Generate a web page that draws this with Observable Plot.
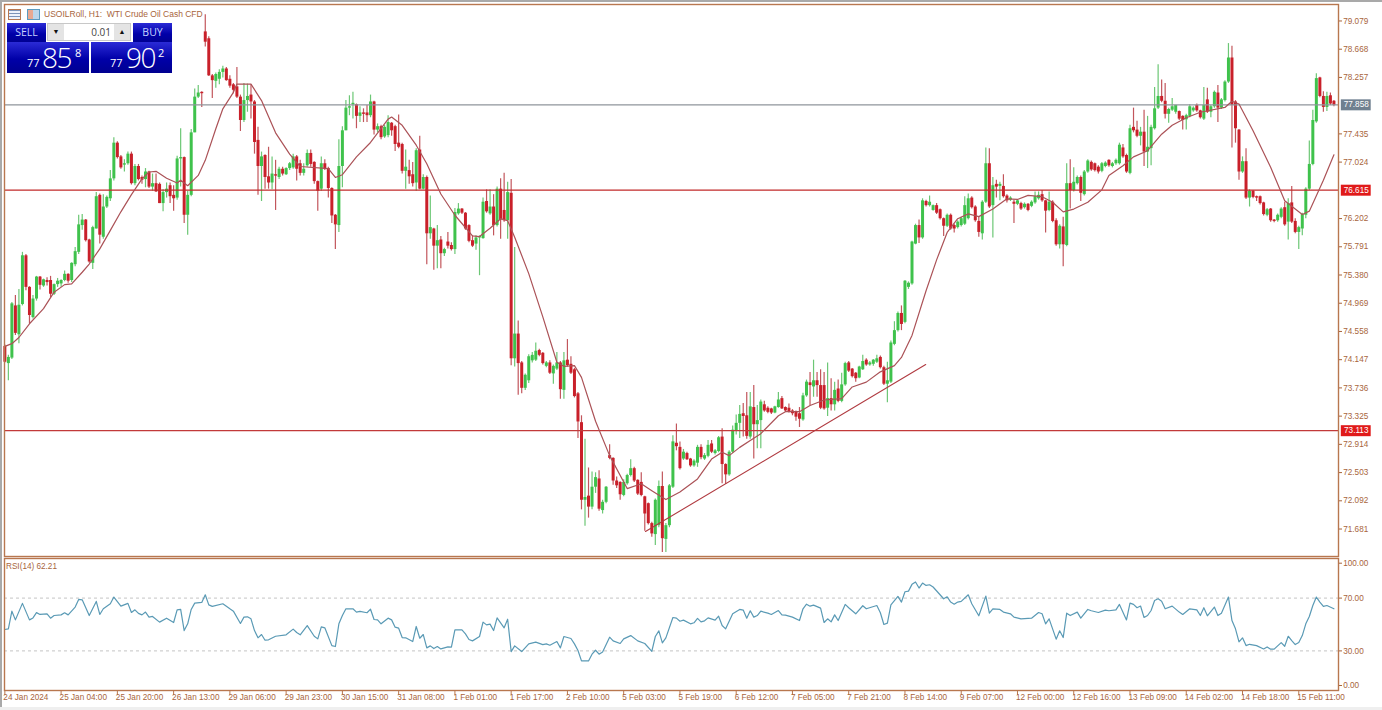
<!doctype html>
<html><head><meta charset="utf-8">
<script src="https://cdn.jsdelivr.net/npm/d3@7"></script>
<script src="https://cdn.jsdelivr.net/npm/@observablehq/plot@0.6"></script>
<style>
html,body{margin:0;padding:0;background:#fff;width:1382px;height:710px;overflow:hidden}
#stage{position:relative;width:1382px;height:710px;font-family:"Liberation Sans",Arial,sans-serif}
#stage svg{position:absolute;left:0;background:transparent}
.edge{position:absolute;background:#a9a9a9}
.ui{position:absolute;color:#fff;white-space:nowrap}
.blue{position:absolute;background:linear-gradient(#2b2bd6,#0000a8 55%,#000090)}
</style></head><body><div id="stage"></div>
<script>
const open=[
74.34,74.09,74.17,74.93,74.51,74.95,75.66,75.2,74.76,75.03,
75.35,75.22,75.3,75.3,75.1,75.24,75.25,75.3,75.39,75.3,
75.53,75.71,76.1,76.18,75.89,75.55,76.05,76.54,75.93,76.37,
76.49,76.78,77.3,77.1,76.98,77.0,77.14,76.71,76.96,76.8,
76.77,76.88,76.66,76.71,76.7,76.42,76.58,76.68,76.54,76.5,
77.07,77.09,76.25,76.54,77.45,77.97,78.04,78.92,78.82,78.28,
78.2,78.23,78.33,78.38,78.23,78.15,78.12,77.97,77.63,77.92,
78.0,77.9,77.34,76.96,77.12,76.81,76.72,76.84,76.8,76.92,
76.84,76.93,76.94,77.1,77.0,76.86,76.97,77.15,77.02,76.74,
76.63,77.0,76.93,76.64,76.25,76.1,76.96,77.48,77.81,77.86,
77.86,77.69,77.74,77.74,77.7,77.9,77.49,77.54,77.39,77.41,
77.59,77.54,77.3,77.28,76.89,76.9,76.84,76.72,77.2,76.63,
76.8,75.98,76.05,75.8,75.89,75.69,75.86,75.81,75.75,76.27,
76.34,76.28,76.1,75.88,75.83,75.92,75.91,76.45,76.27,76.37,
76.1,76.63,76.32,76.17,76.57,74.16,74.52,74.1,73.73,73.84,
74.13,74.14,74.28,74.24,74.05,74.1,73.94,74.01,74.1,73.7,
74.14,74.08,74.0,73.65,73.23,72.1,72.16,72.0,72.29,72.41,
71.95,72.07,72.75,72.71,72.38,72.36,72.17,72.34,72.46,72.56,
72.39,72.36,72.15,72.05,71.76,71.6,71.73,72.3,71.53,71.73,
72.29,72.93,72.87,72.7,72.78,72.7,72.6,72.64,72.87,72.7,
72.74,72.92,72.78,72.81,73.02,72.62,72.47,72.8,73.11,73.22,
73.36,73.33,73.02,73.45,73.2,73.26,73.49,73.44,73.43,73.37,
73.45,73.58,73.45,73.44,73.4,73.38,73.36,73.27,73.62,73.81,
73.75,73.84,73.77,73.77,73.44,73.58,73.49,73.72,73.54,73.78,
74.1,74.01,73.95,73.88,74.0,74.14,74.07,74.08,74.11,74.18,
74.03,73.79,73.82,74.37,74.57,74.82,74.69,75.2,75.25,75.83,
76.1,75.92,76.45,76.39,76.32,76.39,76.33,76.2,76.09,76.25,
76.1,76.07,76.1,76.12,76.2,76.5,76.37,76.16,75.98,76.44,
77.0,76.39,76.7,76.67,76.67,76.53,76.47,76.44,76.41,76.42,
76.36,76.41,76.38,76.43,76.49,76.55,76.46,76.32,76.44,76.17,
75.82,76.08,75.81,76.71,76.61,76.71,76.8,76.55,76.88,77.02,
77.0,76.95,76.89,76.96,77.05,76.96,77.0,77.0,77.23,77.12,
76.86,77.53,77.49,77.4,77.46,77.17,77.22,77.51,77.81,77.98,
77.91,77.72,77.78,77.75,77.76,77.69,77.64,77.69,77.77,77.85,
77.77,77.65,77.93,77.75,77.83,78.03,77.81,77.92,78.19,78.54,
77.9,77.49,76.88,77.03,76.5,76.6,76.52,76.52,76.43,76.25,
76.34,76.18,76.17,76.22,76.36,76.15,76.43,76.16,76.0,76.05,
76.25,76.63,76.99,77.61,78.25,77.98,77.82,77.99,77.91];
const close=[
74.11,74.18,74.96,74.53,74.94,75.66,75.2,74.79,75.03,75.35,
75.23,75.31,75.27,75.1,75.24,75.29,75.3,75.39,75.29,75.55,
75.72,76.11,76.18,75.88,75.57,76.07,76.52,75.96,76.37,76.51,
76.78,77.3,77.09,76.94,77.0,77.14,76.71,76.96,76.77,76.76,
76.88,76.66,76.71,76.59,76.42,76.58,76.63,76.52,76.49,77.07,
77.09,76.25,76.54,77.45,77.97,78.03,78.02,78.77,78.28,78.21,
78.3,78.33,78.38,78.21,78.13,78.07,77.97,77.63,77.92,77.98,
77.9,77.31,76.96,77.1,76.8,76.72,76.85,76.82,76.92,76.85,
76.93,77.0,77.1,76.92,76.86,76.92,77.15,76.99,76.74,76.6,
77.0,76.92,76.64,76.24,76.11,76.96,77.48,77.81,77.83,77.88,
77.69,77.74,77.72,77.7,77.9,77.49,77.54,77.38,77.53,77.6,
77.48,77.28,77.24,76.89,76.95,76.81,76.71,77.19,76.63,76.8,
75.98,76.07,75.8,75.88,75.69,75.75,75.8,75.75,76.29,76.34,
76.28,76.05,75.87,75.8,75.92,75.94,76.44,76.3,76.37,76.1,
76.63,76.18,76.17,76.58,74.16,74.52,74.09,73.73,73.92,74.19,
74.21,74.27,74.21,74.09,74.1,73.95,74.05,74.1,73.71,74.13,
74.06,73.95,73.61,73.24,72.1,72.14,72.0,72.29,72.43,71.97,
72.07,72.29,72.71,72.38,72.31,72.18,72.36,72.46,72.56,72.38,
72.19,72.17,71.9,71.76,71.61,72.1,72.3,71.54,71.73,72.31,
72.95,72.88,72.56,72.8,72.69,72.6,72.67,72.87,72.72,72.75,
72.9,72.8,72.82,73.01,72.62,72.47,72.8,73.12,73.22,73.35,
73.32,73.03,73.46,73.2,73.26,73.53,73.4,73.38,73.37,73.46,
73.56,73.43,73.4,73.38,73.36,73.31,73.28,73.62,73.82,73.77,
73.84,73.77,73.44,73.43,73.58,73.49,73.7,73.54,73.78,74.09,
73.98,73.9,73.87,74.04,74.12,74.07,74.1,74.14,74.16,74.03,
73.79,73.84,74.39,74.57,74.82,74.66,75.29,75.26,75.86,76.1,
75.92,76.46,76.39,76.44,76.39,76.28,76.2,76.09,76.25,76.05,
76.05,76.15,76.2,76.39,76.49,76.36,76.17,76.0,76.44,77.0,
76.37,76.68,76.66,76.7,76.52,76.46,76.5,76.41,76.46,76.34,
76.41,76.32,76.44,76.52,76.54,76.46,76.31,76.44,76.16,75.82,
76.09,75.82,76.71,76.61,76.73,76.8,76.57,76.88,77.04,76.91,
76.9,76.88,77.0,77.01,76.97,77.0,77.05,77.27,77.1,76.88,
77.51,77.48,77.4,77.46,77.17,77.24,77.53,77.8,77.98,77.91,
77.72,77.79,77.83,77.85,77.65,77.63,77.7,77.83,77.81,77.77,
77.67,77.85,77.75,77.83,78.04,77.81,77.93,78.19,78.54,77.85,
77.51,76.88,77.03,76.5,76.6,76.51,76.5,76.42,76.26,76.33,
76.17,76.16,76.25,76.34,76.11,76.42,76.15,76.0,76.07,76.26,
76.63,76.99,77.63,78.24,77.98,77.82,77.98,77.87,77.85];
const high=[
74.36,74.21,74.98,75.08,75.17,75.71,75.68,75.21,75.08,75.36,
75.36,75.32,75.34,75.36,75.25,75.33,75.31,75.44,75.4,75.56,
75.78,76.25,76.26,76.19,75.9,76.09,76.58,76.56,76.55,76.53,
76.9,77.38,77.32,77.12,77.06,77.17,77.17,76.99,76.99,76.82,
76.93,76.89,76.85,76.85,76.72,76.62,76.72,76.72,76.68,77.11,
77.51,77.1,76.6,77.5,78.09,78.14,78.05,79.17,78.85,78.3,
78.32,78.37,78.42,78.4,78.28,78.17,78.4,78.0,78.17,78.16,
78.15,77.92,77.53,77.17,77.13,77.24,77.1,77.05,76.95,76.95,
76.94,77.02,77.14,77.12,77.05,77.0,77.2,77.2,77.03,76.75,
77.1,77.06,76.95,76.65,76.26,77.35,77.54,77.92,77.99,78.04,
77.87,77.83,77.8,77.85,78.0,77.91,77.58,77.56,77.56,77.7,
77.6,77.56,77.71,77.3,77.2,77.05,77.02,77.22,77.4,76.84,
76.82,76.53,76.06,76.1,75.94,75.77,76.0,75.85,76.35,76.42,
76.35,76.29,76.11,75.95,75.95,75.95,76.5,76.62,76.62,76.55,
76.66,76.78,76.86,76.73,76.77,75.78,74.71,74.12,73.94,74.22,
74.25,74.39,74.3,74.25,74.12,74.13,74.07,74.25,74.12,74.25,
74.44,74.19,74.02,73.67,73.33,72.99,72.57,72.51,72.5,72.53,
72.1,72.3,72.91,72.72,72.44,72.37,72.4,72.48,72.69,72.58,
72.4,72.5,72.16,72.06,71.78,72.12,72.38,72.51,71.76,72.33,
73.04,73.21,72.95,72.84,72.8,72.71,72.69,72.9,72.91,72.78,
72.97,72.97,72.84,73.03,73.14,72.63,72.82,73.18,73.34,73.48,
73.51,73.67,73.67,73.77,73.48,73.56,73.54,73.46,73.44,73.47,
73.67,73.61,73.46,73.5,73.42,73.4,73.45,73.66,73.85,73.96,
74.14,73.96,74.0,73.96,74.1,73.87,73.82,73.85,73.95,74.11,
74.12,74.02,73.96,74.05,74.21,74.16,74.12,74.15,74.21,74.2,
74.05,74.11,74.42,74.7,74.84,74.93,75.3,75.28,75.87,76.12,
76.18,76.49,76.47,76.53,76.4,76.42,76.34,76.21,76.27,76.27,
76.12,76.17,76.22,76.52,76.56,76.52,76.39,76.23,76.46,77.23,
77.22,76.8,76.76,76.73,76.84,76.55,76.52,76.47,76.48,76.44,
76.43,76.42,76.46,76.59,76.59,76.61,76.47,76.59,76.46,76.2,
76.11,76.22,77.0,77.06,76.94,76.82,76.82,76.9,77.06,77.04,
77.01,76.97,77.02,77.03,77.06,77.02,77.07,77.3,77.28,77.14,
77.56,77.81,77.62,77.53,77.78,77.69,77.56,78.11,78.44,78.22,
78.17,77.81,77.95,77.85,77.77,77.7,77.72,77.86,77.83,77.87,
77.78,78.11,78.1,77.85,78.06,78.14,77.95,78.21,78.75,78.71,
77.92,77.5,77.1,77.22,76.62,76.61,76.53,76.53,76.44,76.35,
76.35,76.19,76.27,76.36,76.44,76.49,76.67,76.2,76.09,76.28,
76.65,77.33,77.78,78.31,78.26,78.05,78.04,78.03,77.92];
const low=[
74.1,73.84,74.15,74.5,74.38,74.93,75.15,74.67,74.74,75.0,
75.16,75.2,75.22,75.05,75.08,75.2,75.2,75.28,75.26,75.27,
75.5,75.68,76.03,75.86,75.55,75.46,76.05,75.83,75.9,76.35,
76.45,76.75,77.07,76.92,76.88,76.98,76.69,76.68,76.75,76.7,
76.65,76.64,76.6,76.58,76.42,76.3,76.5,76.42,76.31,76.47,
76.66,76.13,75.96,76.52,77.45,77.95,77.82,78.7,78.27,77.95,
78.1,78.15,78.25,78.2,78.1,78.02,77.95,77.47,77.6,77.75,
77.65,77.14,76.54,76.45,76.63,76.63,76.62,76.32,76.77,76.82,
76.83,76.9,76.92,76.75,76.82,76.82,76.95,76.95,76.7,76.31,
76.6,76.9,76.5,76.13,75.75,76.0,76.65,77.48,77.7,77.65,
77.51,77.6,77.6,77.6,77.67,77.42,77.45,77.35,77.37,77.38,
77.4,77.18,77.22,76.85,76.63,76.7,76.66,76.6,76.62,76.62,
75.53,75.9,75.45,75.47,75.47,75.65,75.76,75.73,75.68,76.25,
76.26,76.03,75.85,75.78,75.74,75.37,75.9,76.28,76.25,75.95,
76.08,75.9,76.15,75.9,74.06,74.04,73.63,73.65,73.7,73.8,
74.1,74.12,74.19,74.07,74.03,73.93,73.79,73.99,73.57,73.57,
74.04,73.93,73.59,73.0,71.96,71.72,71.84,71.96,72.2,71.94,
71.9,72.05,72.69,72.32,72.27,72.1,72.15,72.32,72.44,72.36,
72.17,72.15,71.65,71.74,71.56,71.44,71.7,71.34,71.34,71.7,
72.27,72.82,72.54,72.68,72.68,72.58,72.58,72.58,72.69,72.68,
72.72,72.78,72.76,72.79,72.34,72.33,72.45,72.78,73.05,73.0,
73.02,72.99,72.99,72.7,72.85,72.85,73.38,73.36,73.35,73.36,
73.44,73.42,73.38,73.37,73.33,73.25,73.16,73.25,73.6,73.48,
73.6,73.6,73.42,73.41,73.32,73.4,73.4,73.52,73.52,73.76,
73.96,73.88,73.82,73.87,73.99,74.05,74.05,74.05,74.09,74.01,
73.77,73.52,73.8,74.35,74.55,74.57,74.67,75.17,75.23,75.82,
75.84,75.9,76.37,76.37,76.31,76.26,76.18,75.94,76.07,76.03,
75.99,76.05,76.08,76.1,76.18,76.34,76.15,75.93,75.89,76.42,
76.35,75.92,76.5,76.46,76.5,76.43,76.45,76.13,76.39,76.32,
76.34,76.3,76.36,76.41,76.47,76.44,75.99,76.3,76.14,75.8,
75.76,75.5,75.79,76.34,76.59,76.69,76.45,76.53,76.86,76.89,
76.88,76.85,76.87,76.94,76.95,76.94,76.98,76.98,77.08,76.86,
76.84,77.45,77.38,77.26,76.96,76.93,76.97,77.49,77.79,77.89,
77.65,77.59,77.76,77.72,77.63,77.49,77.49,77.67,77.75,77.75,
77.65,77.63,77.73,77.67,77.81,77.6,77.79,77.9,78.17,77.23,
77.3,76.76,76.86,76.48,76.37,76.49,76.45,76.4,76.24,76.23,
76.15,76.14,76.15,76.2,76.09,75.89,76.13,75.98,75.75,75.95,
76.2,76.61,76.97,77.59,77.96,77.75,77.76,77.85,77.83];

const maBar=[0,2,4,7,11,14,17,19,22,24,27,30,33,36,39,41,43,46,49,50,52,55,57,60,62,65,66,70,73,77,81,84,92,94,96,100,104,109,110,113,117,120,124,128,130,133,135,138,141,143,145,149,153,157,159,162,164,168,172,177,181,184,188,192,197,201,204,206,209,212,215,220,222,226,229,233,238,241,245,249,253,255,258,262,265,268,271,274,277,281,285,288,291,295,298,301,304,308,312,314,318,321,325,329,332,336,340,347,349,351,355,360,364,369,371,375,378];
const maValue=[74.34,74.38,74.47,74.67,74.89,75.13,75.24,75.25,75.42,75.54,75.76,76.03,76.3,76.55,76.78,76.88,76.89,76.79,76.72,76.76,76.68,76.83,77.05,77.51,77.8,78.04,78.16,78.16,77.92,77.45,77.14,76.96,76.93,76.8,76.84,77.1,77.31,77.65,77.68,77.56,77.27,77.0,76.56,76.25,76.13,75.95,75.94,76.06,76.2,76.17,75.93,75.4,74.77,74.11,74.05,74.06,73.89,73.25,72.75,72.27,72.34,72.24,72.11,72.22,72.41,72.7,72.8,72.75,72.87,72.97,73.07,73.33,73.39,73.39,73.48,73.56,73.58,73.75,73.82,73.97,74.06,74.18,74.5,75.15,75.6,76.0,76.2,76.27,76.23,76.34,76.49,76.48,76.54,76.52,76.44,76.3,76.34,76.44,76.62,76.83,76.97,77.1,77.19,77.43,77.56,77.67,77.75,77.82,77.91,77.87,77.48,76.95,76.46,76.26,76.31,76.76,77.13];

const rsiBar=[0,1,2,3,5,7,8,9,10,12,13,14,16,17,18,20,21,22,24,26,27,28,30,31,33,35,36,37,38,39,40,41,42,44,46,48,49,50,51,52,53,54,56,57,58,59,62,64,65,67,68,69,70,71,72,73,74,75,77,80,82,83,84,86,88,89,90,91,93,94,95,96,97,99,100,101,103,104,105,106,107,109,
110,111,112,113,114,116,117,118,119,120,121,122,123,124,126,127,128,130,131,132,133,135,136,137,138,139,140,142,143,144,145,147,149,151,153,154,155,157,158,159,161,162,163,164,166,167,168,169,170,172,173,175,176,178,180,182,184,185,186,187,188,190,191,192,193,195,196,197,198,199,200,202,203,204,205,207,209,210,211,212,213,214,215,217,218,220,221,222,
224,226,227,228,229,230,232,233,234,235,236,237,239,240,242,244,245,248,249,250,251,252,254,255,256,257,258,259,260,261,262,263,264,267,268,269,270,271,272,274,275,277,279,280,281,283,284,286,287,289,292,294,295,296,297,299,300,301,302,303,305,306,308,309,311,313,314,316,317,319,320,321,322,323,324,325,
326,327,328,329,330,332,334,335,337,339,340,341,342,344,345,346,348,349,350,351,352,353,354,356,358,359,360,361,363,364,365,366,367,368,369,370,371,372,373,374,375,376,378];
const rsiValue=[46.2,46.7,60.1,53.5,66,53.5,55,59,57.6,58.1,54.8,56.8,57.3,58.9,57.3,63.2,69,68.7,56.8,67.5,57.6,61.9,65.7,70.8,63.9,66,59.1,61.1,58.4,57.3,59.4,55.6,56.1,51.8,54.8,51.5,61.1,61.4,45.4,50.5,61.4,66.2,66.7,72.5,64.9,63.7,65.7,61.9,60.1,50.8,55.6,55.8,54.3,45.4,39.9,42.4,38.1,38.4,41.1,42.2,46.5,43.9,42.2,49.2,41.1,39.1,48.2,47.5,34,33.3,50.5,56.8,61.9,61.9,59.4,59.9,58.9,61.6,53.8,53.5,50.5,54.8,
53.5,48,47.2,40.1,39.9,37.1,48.5,39.6,42.4,32.3,33.8,31.8,33.3,31.5,33,32.8,46,46,42.9,38.6,37.6,40.9,51.8,49.7,50.3,45.4,55,47.5,54,29.5,33.8,29.5,35.3,36.6,34.8,35.3,34.3,37.1,32.3,40.9,39.4,35.3,30.3,22.4,22.4,27.5,30.5,27.5,29.2,40.4,37.6,35.6,39.1,41.6,37.6,35.6,29.7,40.9,45.2,36.1,39.9,55.3,54.8,52.5,53.3,50.5,51.3,54.6,52,52.8,55,53.3,56.3,49.2,46.7,58.1,61.4,60.9,54.8,60.4,55.6,56.8,60.1,58.6,57.6,60.6,57.3,57.1,
55.6,53,61.9,65.4,63.9,64.7,62.4,51.5,54.3,52,57.3,53,65.2,62.7,58.1,64.2,61.9,64.4,58.9,50,51,64.9,71.3,67,74.8,75.3,80.4,82.2,77.6,81.4,79.6,80.1,78.4,69.5,71,67,65.4,67,67.5,72.5,65.7,56.6,71.5,58.6,61.9,61.4,59.4,58.1,55.6,54.3,54.8,59.1,58.1,50.5,54.3,38.9,45.2,40.1,58.6,56.8,59.4,54.8,61.4,60.4,59.1,60.9,60.4,61.1,65.2,53.5,66.2,65.2,62.7,64,55.3,56.8,
60.6,68.2,69.5,67.7,61.9,63.9,59.4,57.6,61.9,61.1,56.8,62.7,56.6,63.2,56.8,58.6,70.8,53,46.7,36.8,39.9,34,35,34,31.5,33,31.3,31.3,36.3,33.5,41.1,37.8,34.8,36.3,41.6,50.5,56.1,64.4,70.8,67,63.7,64.4,61.9];

const tickEvery=16;
const timeLabels=["24 Jan 2024","25 Jan 04:00","25 Jan 20:00","26 Jan 13:00","29 Jan 06:00","29 Jan 23:00","30 Jan 15:00","31 Jan 08:00","1 Feb 01:00","1 Feb 17:00","2 Feb 10:00","5 Feb 03:00","5 Feb 19:00","6 Feb 12:00","7 Feb 05:00","7 Feb 21:00","8 Feb 14:00","9 Feb 07:00","12 Feb 00:00","12 Feb 16:00","13 Feb 09:00","14 Feb 02:00","14 Feb 18:00","15 Feb 11:00"];
const priceTicks=[79.079,78.668,78.257,77.435,77.024,76.202,75.791,75.38,74.969,74.558,74.147,73.736,73.325,72.914,72.503,72.092,71.681];
const levels=[{v:77.858,c:"#8f959b",box:"#6f8090"},{v:76.615,c:"#c22a2a",box:"#e01a1a"},{v:73.113,c:"#c23a3a",box:"#e01a1a"}];
const trendBar=[182.2,261.9], trendPrice=[71.645,74.077];
const rsiLevels=[30,70];

const BROWN="#b8774f", TEXT="#a8653c", GREEN="#3fc24c", GREENW="#6cc775", RED="#c9202a", REDW="#c2565c", MA="#ab5257", RSI="#5a9ab5";
const font="'Liberation Sans',Arial,sans-serif";
const xDomain=[-0.1,379.3], boxX=[380.1,388.6];
const bars=close.map((c,i)=>({i,open:open[i],close:c,high:high[i],low:low[i]}));
const up=bars.filter(d=>d.close>=d.open), down=bars.filter(d=>d.close<d.open);
const base={width:1382,marginLeft:4,marginRight:44,style:{fontFamily:font,fontSize:"8.2px",background:"transparent",overflow:"visible"}};
const axisOpts={anchor:"right",tickFormat:d3.format(".2f"),tickSize:3,tickPadding:1.7,color:TEXT,label:null};

const main=Plot.plot({...base,height:557,marginTop:4,marginBottom:1,
  x:{domain:xDomain,axis:null},y:{domain:[71.281,79.319]},
  marks:[
    Plot.ruleX(up,{x:"i",y1:"low",y2:"high",stroke:GREENW,strokeWidth:1.2}),
    Plot.ruleX(down,{x:"i",y1:"low",y2:"high",stroke:REDW,strokeWidth:1.2}),
    Plot.ruleX(up,{x:"i",y1:"open",y2:"close",stroke:GREEN,strokeWidth:3}),
    Plot.ruleX(down,{x:"i",y1:"open",y2:"close",stroke:RED,strokeWidth:3}),
    Plot.ruleY(levels,{y:"v",stroke:"c",strokeWidth:1.2}),
    Plot.line(maBar.map((b,k)=>({b,v:maValue[k]})),{x:"b",y:"v",stroke:MA,strokeWidth:1.2}),
    Plot.line(trendBar.map((b,k)=>({b,v:trendPrice[k]})),{x:"b",y:"v",stroke:"#b03a40",strokeWidth:1.1}),
    Plot.frame({stroke:BROWN,strokeWidth:1.4}),
    Plot.axisY({...axisOpts,ticks:priceTicks,tickFormat:d3.format(".3f")}),
    Plot.ruleY(levels,{y:"v",x1:()=>boxX[0],x2:()=>boxX[1],stroke:"box",strokeWidth:11}),
    Plot.text(levels,{y:"v",x:()=>(boxX[0]+boxX[1])/2,text:d=>d.v.toFixed(3),fill:"#fff",fontSize:8.2})
  ]});
main.style.top="0";

const timeTicks=timeLabels.map((_,k)=>k*tickEvery);
const sub=Plot.plot({...base,height:153,marginTop:1,marginBottom:20,
  x:{domain:xDomain},y:{domain:[0,100]},
  marks:[
    Plot.ruleY(rsiLevels,{stroke:"#c4c4c4",strokeWidth:1,strokeDasharray:"3,3"}),
    Plot.line(rsiBar.map((b,k)=>({b,v:rsiValue[k]})),{x:"b",y:"v",stroke:RSI,strokeWidth:1.2}),
    Plot.frame({stroke:BROWN,strokeWidth:1.4}),
    Plot.axisY({...axisOpts,ticks:rsiLevels}),
    Plot.axisY({...axisOpts,ticks:[100],dy:4.7}),
    Plot.axisY({...axisOpts,ticks:[0],dy:-5}),
    Plot.axisX({anchor:"bottom",ticks:timeTicks,tickSize:5,stroke:BROWN,fill:"none",label:null}),
    Plot.axisX({anchor:"bottom",ticks:timeTicks,tickFormat:i=>timeLabels[i/tickEvery],tickSize:0,tickPadding:4,dx:-1.5,textAnchor:"start",fill:TEXT,label:null})
  ]});
sub.style.top="557px";

const stage=document.getElementById("stage");
stage.append(main,sub);
stage.insertAdjacentHTML("beforeend",`
<div class="edge" style="left:0;top:0;width:1382px;height:2px"></div>
<div class="edge" style="left:0;top:0;width:2px;height:710px"></div>
<div class="edge" style="left:0;top:707px;width:1382px;height:3px;background:#efefef"></div>
<div class="ui" style="left:44px;top:8px;font-size:8.5px;color:${TEXT};line-height:12px">USOILRoll, H1:&nbsp; WTI Crude Oil Cash CFD</div>
<div class="ui" style="left:6px;top:561px;font-size:8.2px;color:${TEXT};line-height:11px">RSI(14) 62.21</div>
<div class="ui" style="left:8px;top:9px;width:11px;height:9px;border:1px solid #b8774f;background:repeating-linear-gradient(#7c93b8 0 1px,#eef2fa 1px 3px)"></div>
<div class="ui" style="left:27px;top:9px;width:11px;height:9px;border:1px solid #5b9bc0;background:linear-gradient(90deg,#e9a890 50%,#bcd6ea 50%)"></div>
<div class="blue" style="left:7px;top:23px;width:39px;height:20px"></div>
<div class="ui" style="left:7px;top:24px;width:39px;text-align:center;font:10.5px/17px 'Open Sans',sans-serif;color:#c6d2ff">SELL</div>
<div class="blue" style="left:133px;top:23px;width:39px;height:20px"></div>
<div class="ui" style="left:133px;top:24px;width:39px;text-align:center;font:10.5px/17px 'Open Sans',sans-serif;color:#c6d2ff">BUY</div>
<div class="ui" style="left:47px;top:23px;width:84px;height:18px;background:#fff;border:1px solid #c8c8c8;box-sizing:border-box"></div>
<div class="ui" style="left:48px;top:24px;width:16px;height:16px;background:#e4e4e4;color:#111;font:7px/16px sans-serif;text-align:center">&#9660;</div>
<div class="ui" style="left:114px;top:24px;width:16px;height:16px;background:#e4e4e4;color:#111;font:7px/16px sans-serif;text-align:center">&#9650;</div>
<div class="ui" style="left:64px;top:24px;width:47px;text-align:right;font:10px/16px 'Open Sans',sans-serif;color:#444">0.01</div>
<div class="blue" style="left:7px;top:42px;width:82px;height:31px"></div>
<div class="blue" style="left:91px;top:42px;width:81px;height:31px"></div>
<div class="ui" style="left:27px;top:56px;font:11px/14px 'Open Sans',sans-serif">77</div>
<div class="ui" style="left:42px;top:41px;font:300 28px/32px 'Open Sans',sans-serif;letter-spacing:-1.6px">85</div>
<div class="ui" style="left:75px;top:46px;font:11px/14px 'Open Sans',sans-serif">8</div>
<div class="ui" style="left:110px;top:56px;font:11px/14px 'Open Sans',sans-serif">77</div>
<div class="ui" style="left:126px;top:41px;font:300 28px/32px 'Open Sans',sans-serif;letter-spacing:-1.6px">90</div>
<div class="ui" style="left:158px;top:46px;font:11px/14px 'Open Sans',sans-serif">2</div>
`);
</script></body></html>
